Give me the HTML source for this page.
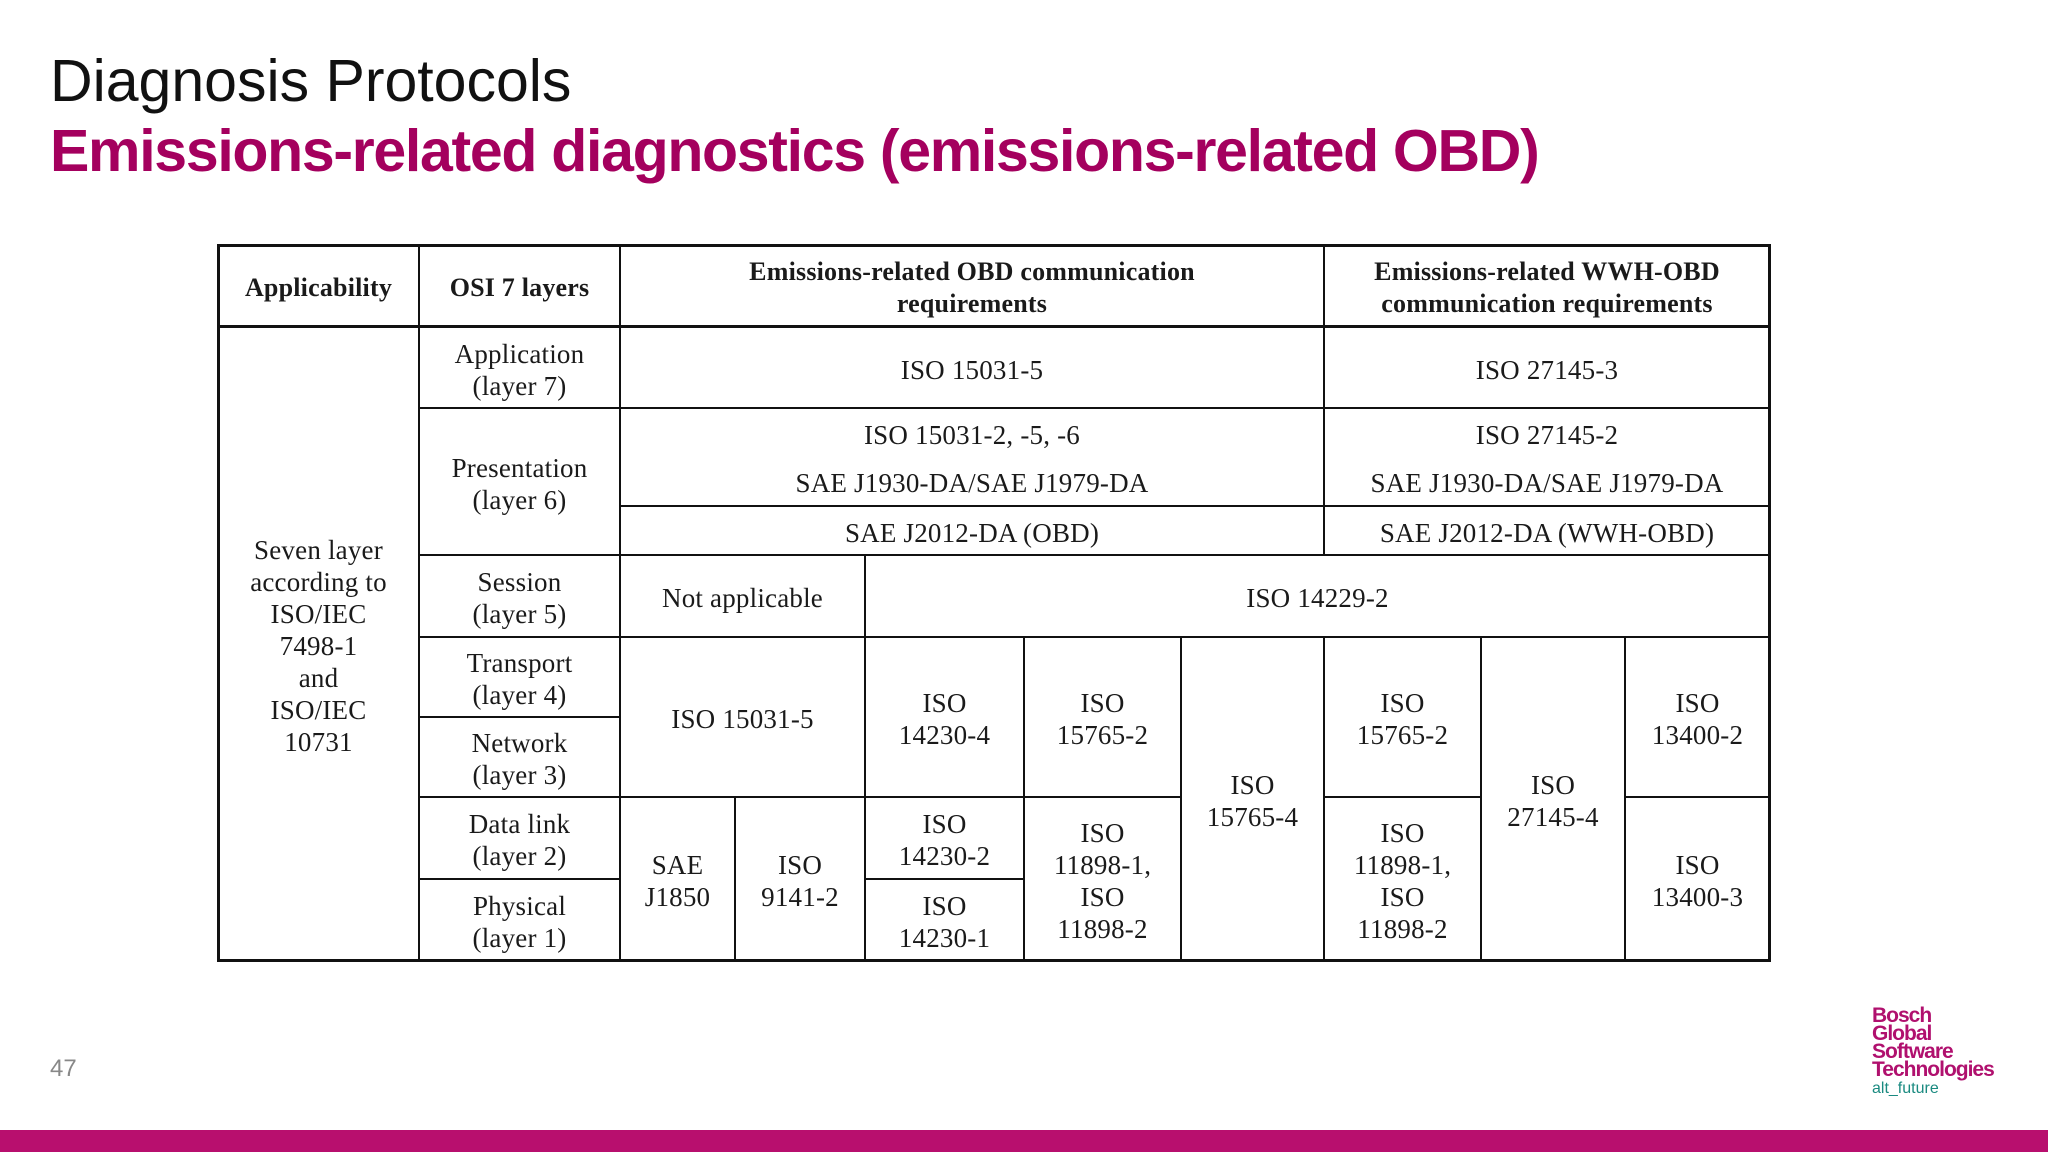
<!DOCTYPE html>
<html><head><meta charset="utf-8"><style>
body{margin:0;width:2048px;height:1152px;position:relative;background:#fff;overflow:hidden;font-family:"Liberation Sans",sans-serif}
.t{position:absolute;left:50px;white-space:nowrap}
.c{position:absolute;box-sizing:border-box;border:1.5px solid #111;padding-top:4px;display:flex;align-items:center;justify-content:center;text-align:center;font-family:"Liberation Serif",serif;font-size:27px;line-height:32px;color:#1a1a1a;letter-spacing:0.2px}
.b{font-weight:bold;font-size:26px}
</style></head><body>
<div class="t" style="top:47px;font-size:59px;color:#111;letter-spacing:0px">Diagnosis Protocols</div>
<div class="t" style="top:117px;font-size:59px;font-weight:bold;color:#a4005e;letter-spacing:-1.3px">Emissions-related diagnostics (emissions-related OBD)</div>
<div id="tbl"></div>
<div style="position:absolute;left:217px;top:244px;width:1554px;height:718px;border:3px solid #111;box-sizing:border-box"></div>
<div style="position:absolute;left:217px;top:325px;width:1554px;height:3px;background:#111"></div>
<div style="position:absolute;left:50px;top:1055px;font-size:24px;color:#888">47</div>
<div style="position:absolute;left:1872px;top:1007px;font-weight:bold;font-size:21px;line-height:18px;color:#b0106e;letter-spacing:-1px">Bosch<br>Global<br>Software<br>Technologies<div style="font-weight:normal;font-size:16px;color:#1a8a80;letter-spacing:0;line-height:20px">alt_future</div></div>
<div style="position:absolute;left:0;top:1130px;width:2048px;height:22px;background:#b80f6e"></div>
<script>
var X=[218,419,620,735,865,1024,1181,1324,1481,1625,1770];
var Y=[245,327,408,506,555,637,717,797,879,961];
var Yb=506;
var tbl=document.getElementById('tbl');
function cell(a,b,y1,y2,txt,bold,name,lh){
 var d=document.createElement('div');
 d.className='c'+(bold?' b':'');
 d.style.left=(a-0.75)+'px';d.style.top=(y1-0.75)+'px';
 d.style.width=(b-a+1.5)+'px';d.style.height=(y2-y1+1.5)+'px';
 if(lh)d.style.lineHeight=lh+'px';
 d.innerHTML=txt;
 
 
 tbl.appendChild(d);
}
var r0=Y[0],r1=Y[1],r2=Y[2],r3=Y[4],r4=Y[5],r5=Y[6],r6=Y[7],r7=Y[8],r8=Y[9];
cell(X[0],X[1],r0,r1,'Applicability',1,'header-applicability');
cell(X[1],X[2],r0,r1,'OSI 7 layers',1,'header-osi-layers');
cell(X[2],X[7],r0,r1,'Emissions-related OBD communication<br>requirements',1,'header-obd');
cell(X[7],X[10],r0,r1,'Emissions-related WWH-OBD<br>communication requirements',1,'header-wwh-obd');
cell(X[0],X[1],r1,r8,'Seven layer<br>according to<br>ISO/IEC<br>7498-1<br>and<br>ISO/IEC<br>10731',0,'applicability-cell');
var layers=['Application<br>(layer 7)','Presentation<br>(layer 6)','Session<br>(layer 5)','Transport<br>(layer 4)','Network<br>(layer 3)','Data link<br>(layer 2)','Physical<br>(layer 1)'];
var ly=[r1,r2,r3,r4,r5,r6,r7,r8];
for(var i=0;i<layers.length;i++){cell(X[1],X[2],ly[i],ly[i+1],layers[i],0,'layer-'+(7-i));}
cell(X[2],X[7],r1,r2,'ISO 15031-5',0,'obd-application');
cell(X[7],X[10],r1,r2,'ISO 27145-3',0,'wwh-application');
cell(X[2],X[7],r2,Yb,'ISO 15031-2, -5, -6<br>SAE J1930-DA/SAE J1979-DA',0,'obd-presentation',48);
cell(X[7],X[10],r2,Yb,'ISO 27145-2<br>SAE J1930-DA/SAE J1979-DA',0,'wwh-presentation',48);
cell(X[2],X[7],Yb,r3,'SAE J2012-DA (OBD)',0,'obd-j2012');
cell(X[7],X[10],Yb,r3,'SAE J2012-DA (WWH-OBD)',0,'wwh-j2012');
cell(X[2],X[4],r3,r4,'Not applicable',0,'session-not-applicable');
cell(X[4],X[10],r3,r4,'ISO 14229-2',0,'session-iso14229');
cell(X[2],X[4],r4,r6,'ISO 15031-5',0,'transport-iso15031');
cell(X[4],X[5],r4,r6,'ISO<br>14230-4',0,'transport-iso14230-4');
cell(X[5],X[6],r4,r6,'ISO<br>15765-2',0,'transport-iso15765-2');
cell(X[6],X[7],r4,r8,'ISO<br>15765-4',0,'iso15765-4');
cell(X[7],X[8],r4,r6,'ISO<br>15765-2',0,'wwh-iso15765-2');
cell(X[8],X[9],r4,r8,'ISO<br>27145-4',0,'iso27145-4');
cell(X[9],X[10],r4,r6,'ISO<br>13400-2',0,'iso13400-2');
cell(X[2],X[3],r6,r8,'SAE<br>J1850',0,'sae-j1850');
cell(X[3],X[4],r6,r8,'ISO<br>9141-2',0,'iso9141-2');
cell(X[4],X[5],r6,r7,'ISO<br>14230-2',0,'iso14230-2');
cell(X[4],X[5],r7,r8,'ISO<br>14230-1',0,'iso14230-1');
cell(X[5],X[6],r6,r8,'ISO<br>11898-1,<br>ISO<br>11898-2',0,'iso11898');
cell(X[7],X[8],r6,r8,'ISO<br>11898-1,<br>ISO<br>11898-2',0,'wwh-iso11898');
cell(X[9],X[10],r6,r8,'ISO<br>13400-3',0,'iso13400-3');
</script>
</body></html>
